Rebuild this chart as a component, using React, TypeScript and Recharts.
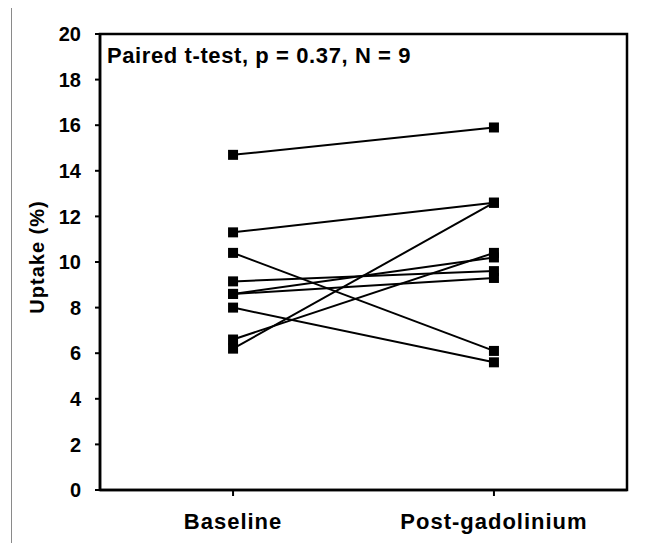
import React from 'react'
import { LineChart, Line, XAxis, YAxis, ReferenceArea } from 'recharts'

// values, one entry per subject
const categories = ['Baseline', 'Post-gadolinium']
const baseline = [14.7, 11.3, 10.4, 9.15, 8.6, 8.6, 8.0, 6.6, 6.2]
const postGadolinium = [15.9, 12.6, 6.1, 9.6, 10.2, 9.3, 5.6, 10.4, 12.6]
const yTicks = [0, 2, 4, 6, 8, 10, 12, 14, 16, 18, 20]
const note = 'Paired t-test, p = 0.37, N = 9'

const FONT = '"Liberation Sans", Arial, sans-serif'

const rows = categories.map((name, i) => {
  const vals = i === 0 ? baseline : postGadolinium
  const row: any = { x: i, name }
  vals.forEach((v, j) => {
    row['s' + j] = v
  })
  return row
})

const keys = baseline.map((_, j) => 's' + j)

const SquareDot = (props: any) => {
  const { cx, cy, dataKey, index } = props
  if (cx == null || cy == null) return null
  return <rect key={`${dataKey}-${index}`} x={cx - 5} y={cy - 5} width={10} height={10} fill="#000" />
}

const App = () => {
  return (
    <div style={{ position: 'relative', width: 641, height: 535 }}>
      <div style={{ position: 'absolute', left: 3, top: -8, width: 1, height: 543, background: '#8a8a8a' }} />
      <LineChart width={641} height={535} data={rows} margin={{ top: 26, right: 22, bottom: 0, left: 0 }}>
        <XAxis
          dataKey="x"
          type="number"
          domain={[-0.51, 1.51]}
          ticks={[0, 1]}
          tickFormatter={(v: number) => categories[v]}
          height={53}
          tickSize={6}
          tickMargin={17}
          axisLine={{ stroke: '#000', strokeWidth: 2.5 }}
          tickLine={{ stroke: '#000', strokeWidth: 2 }}
          tick={{ fill: '#000', fontSize: 22, fontWeight: 700, fontFamily: FONT, letterSpacing: 1 }}
        />
        <YAxis
          type="number"
          domain={[0, 20]}
          ticks={yTicks}
          width={92}
          tickSize={5}
          tickMargin={14}
          axisLine={{ stroke: '#000', strokeWidth: 2.5 }}
          tickLine={{ stroke: '#000', strokeWidth: 2 }}
          tick={{ fill: '#000', fontSize: 20, fontWeight: 700, fontFamily: FONT }}
          label={(p: any) => {
            const vb = p.viewBox || { y: 26, height: 456 }
            const cx = 29
            const cy = vb.y + vb.height / 2 - 5
            return (
              <text
                x={cx}
                y={cy}
                transform={`rotate(-90, ${cx}, ${cy})`}
                textAnchor="middle"
                dominantBaseline="central"
                fill="#000"
                fontSize={20}
                fontWeight={700}
                fontFamily={FONT}
                letterSpacing={1}
              >
                Uptake (%)
              </text>
            )
          }}
        />
        <ReferenceArea
          x1={-0.51}
          x2={1.51}
          y1={0}
          y2={20}
          fill="none"
          fillOpacity={0}
          stroke="#000"
          strokeWidth={2.5}
          label={(p: any) => {
            const vb = p.viewBox || { x: 92, y: 26 }
            return (
              <text
                x={vb.x + 7}
                y={vb.y + 29}
                fill="#000"
                fontSize={22}
                fontWeight={700}
                fontFamily={FONT}
                letterSpacing={0.6}
              >
                {note}
              </text>
            )
          }}
        />
        {keys.map((k) => (
          <Line
            key={k}
            dataKey={k}
            type="linear"
            stroke="#000"
            strokeWidth={2}
            dot={SquareDot}
            activeDot={false}
            isAnimationActive={false}
          />
        ))}
      </LineChart>
    </div>
  )
}

export default App
